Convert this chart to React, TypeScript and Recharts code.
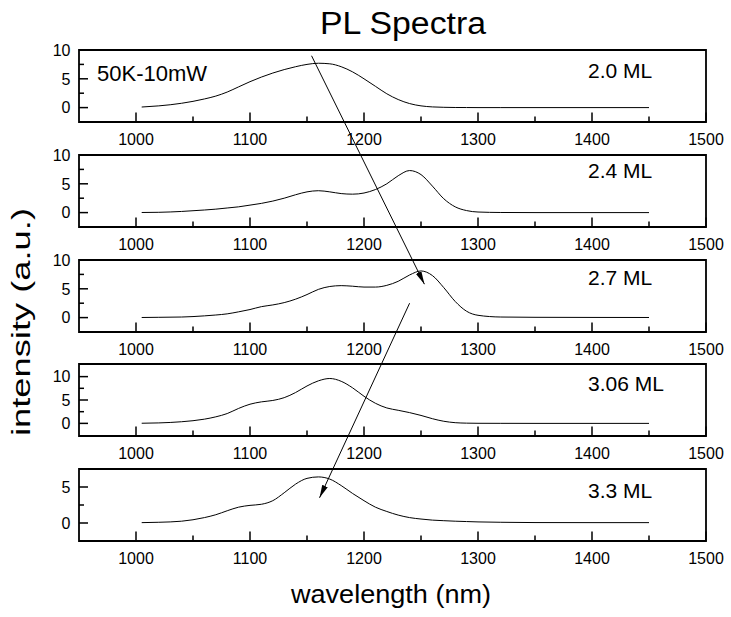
import React from 'react';
import { LineChart, Line, XAxis, YAxis, ReferenceArea } from 'recharts';

// Shared wavelength grid (nm) for all spectra
const wavelength = [
  1005, 1020, 1040, 1060, 1070, 1080, 1090, 1100, 1110, 1120, 1130, 1140, 1150, 1160, 1170, 1180,
  1190, 1200, 1210, 1220, 1230, 1240, 1250, 1260, 1270, 1280, 1290, 1300, 1320, 1350, 1400, 1450,
];

// PL intensity (a.u.) per sample thickness
const pl20 = [
  0.1, 0.3, 0.75, 1.5, 2.0, 2.7, 3.6, 4.5, 5.3, 6.0, 6.6, 7.1, 7.5, 7.7, 7.6, 7.1,
  6.2, 5.0, 3.7, 2.4, 1.4, 0.7, 0.3, 0.12, 0.05, 0.02, 0.01, 0, 0, 0, 0, 0,
];
const pl24 = [
  0.02, 0.05, 0.2, 0.45, 0.6, 0.8, 1.0, 1.3, 1.6, 2.0, 2.5, 3.1, 3.6, 3.8, 3.6, 3.3,
  3.2, 3.4, 4.0, 5.0, 6.4, 7.3, 6.6, 4.6, 2.4, 1.0, 0.35, 0.1, 0.02, 0, 0, 0,
];
const pl27 = [
  0.02, 0.05, 0.1, 0.3, 0.45, 0.65, 1.0, 1.4, 1.9, 2.2, 2.6, 3.2, 4.0, 4.9, 5.4, 5.55,
  5.45, 5.3, 5.3, 5.6, 6.3, 7.4, 8.1, 7.3, 5.2, 2.8, 1.1, 0.4, 0.1, 0.05, 0.03, 0.02,
];
const pl306 = [
  0.03, 0.1, 0.35, 0.9, 1.4, 2.1, 3.2, 4.1, 4.6, 4.9, 5.5, 6.6, 8.0, 9.1, 9.6, 9.0,
  7.6, 5.8, 4.3, 3.3, 2.8, 2.3, 1.7, 1.0, 0.45, 0.15, 0.05, 0.02, 0.01, 0, 0, 0,
];
const pl33 = [
  0.05, 0.1, 0.25, 0.75, 1.15, 1.7, 2.2, 2.45, 2.6, 3.1, 4.2, 5.4, 6.2, 6.4, 6.1, 5.2,
  4.1, 3.1, 2.2, 1.6, 1.1, 0.75, 0.55, 0.4, 0.32, 0.25, 0.2, 0.15, 0.1, 0.06, 0.05, 0.05,
];

const spectra = [pl20, pl24, pl27, pl306, pl33];
const sampleLabels = ['2.0 ML', '2.4 ML', '2.7 ML', '3.06 ML', '3.3 ML'];
const yDomains: [number, number][] = [[-2.5, 10], [-2.5, 10], [-2.5, 10], [-2.7, 12.7], [-2.5, 7.5]];
const yMajorTicks = [[0, 5, 10], [0, 5, 10], [0, 5, 10], [0, 5, 10], [0, 5]];
const yMinorTicks = [[2.5, 7.5], [2.5, 7.5], [2.5, 7.5], [2.5, 7.5], [2.5]];
const xMajorTicks = [1000, 1100, 1200, 1300, 1400, 1500];
const xMinorTicks = [1050, 1150, 1250, 1350, 1450];

// Arrows linking peak positions, given as [panel, wavelength, intensity]
const arrows: [number, number, number, number, number, number][] = [
  [0, 1154, 9.0, 2, 1253, 5.8],
  [2, 1240, 2.5, 4, 1161, 3.5],
];

// Layout
const W = 731;
const H = 617;
const PLOT_LEFT = 79;
const PLOT_RIGHT = 706;
const PLOT_H = 72;
const PANEL_TOPS = [50, 155, 260, 364, 469];
const MT = 10;
const XAXIS_H = 34;
const FONT = '"Liberation Sans", Arial, Helvetica, sans-serif';
const X_MIN = 950;
const X_MAX = 1500;

const toPx = (panel: number, wl: number, v: number) => {
  const [lo, hi] = yDomains[panel];
  const x = PLOT_LEFT + ((wl - X_MIN) / (X_MAX - X_MIN)) * (PLOT_RIGHT - PLOT_LEFT);
  const y = PANEL_TOPS[panel] + ((hi - v) / (hi - lo)) * PLOT_H;
  return [x, y];
};

const XTickBottom = (props: any) => {
  const { x, y, payload } = props;
  const major = xMajorTicks.includes(payload.value);
  return (
    <g>
      <line x1={x} y1={y} x2={x} y2={y - (major ? 9.5 : 5.5)} stroke="#000" strokeWidth={1.5} />
      {major && (
        <text x={x} y={y + 23} textAnchor="middle" fontSize={16} fontFamily={FONT} fill="#000">
          {payload.value}
        </text>
      )}
    </g>
  );
};

const XTickTop = (props: any) => {
  const { x, y } = props;
  return <line x1={x} y1={y} x2={x} y2={y + 4} stroke="#000" strokeWidth={1.2} />;
};

const makeYTick = (majors: number[]) => (props: any) => {
  const { x, y, payload } = props;
  const major = majors.includes(payload.value);
  return (
    <g>
      <line x1={x} y1={y} x2={x + (major ? 9 : 5)} y2={y} stroke="#000" strokeWidth={1.5} />
      {major && (
        <text x={x - 8.5} y={y} dy="0.36em" textAnchor="end" fontSize={16} fontFamily={FONT} fill="#000">
          {payload.value}
        </text>
      )}
    </g>
  );
};

const YTickRight = (props: any) => {
  const { x, y } = props;
  return <line x1={x} y1={y} x2={x - 4} y2={y} stroke="#000" strokeWidth={1.2} />;
};

function Panel({ index }: { index: number }) {
  const series = spectra[index];
  const data = wavelength.map((w, i) => ({ w, v: series[i] }));
  const [lo, hi] = yDomains[index];
  const yTicks = [...yMajorTicks[index], ...yMinorTicks[index]].sort((a, b) => a - b);
  const xTicks = [...xMajorTicks, ...xMinorTicks].sort((a, b) => a - b);
  const topTicks = xTicks.filter((t) => t < X_MAX);
  return (
    <div style={{ position: 'absolute', left: 0, top: PANEL_TOPS[index] - MT }}>
      <LineChart
        width={W}
        height={MT + PLOT_H + XAXIS_H}
        data={data}
        margin={{ top: MT, right: W - PLOT_RIGHT, bottom: 0, left: 0 }}
      >
        <XAxis
          dataKey="w"
          type="number"
          domain={[X_MIN, X_MAX]}
          ticks={xTicks}
          interval={0}
          tickLine={false}
          axisLine={false}
          tickSize={0}
          tickMargin={0}
          height={XAXIS_H}
          tick={XTickBottom}
          allowDataOverflow
        />
        <XAxis
          xAxisId="top"
          orientation="top"
          dataKey="w"
          type="number"
          domain={[X_MIN, X_MAX]}
          ticks={topTicks}
          interval={0}
          tickLine={false}
          axisLine={false}
          tickSize={0}
          tickMargin={0}
          height={0}
          tick={XTickTop}
          allowDataOverflow
        />
        <YAxis
          type="number"
          domain={[lo, hi]}
          ticks={yTicks}
          interval={0}
          tickLine={false}
          axisLine={false}
          tickSize={0}
          tickMargin={0}
          width={PLOT_LEFT}
          tick={makeYTick(yMajorTicks[index])}
          allowDataOverflow
        />
        <YAxis
          yAxisId="right"
          orientation="right"
          type="number"
          domain={[lo, hi]}
          ticks={yTicks}
          interval={0}
          tickLine={false}
          axisLine={false}
          tickSize={0}
          tickMargin={0}
          width={0}
          tick={YTickRight}
          allowDataOverflow
        />
        <ReferenceArea
          x1={X_MIN}
          x2={X_MAX}
          y1={lo}
          y2={hi}
          fill="none"
          fillOpacity={0}
          stroke="#000"
          strokeWidth={1.8}
          ifOverflow="visible"
        />
        <Line
          dataKey="v"
          type="monotone"
          dot={false}
          stroke="#000"
          strokeWidth={1}
          isAnimationActive={false}
        />
      </LineChart>
    </div>
  );
}

const LABEL_BASELINES = [78, 178, 285, 391, 498];

export default function App() {
  return (
    <div style={{ position: 'absolute', left: 0, top: 0, width: W, height: H, background: '#fff' }}>
      {spectra.map((_, i) => (
        <Panel key={i} index={i} />
      ))}
      <svg
        width={W}
        height={H}
        style={{ position: 'absolute', left: 0, top: 0, pointerEvents: 'none' }}
      >
        <defs>
          <marker
            id="arrowHead"
            markerWidth={13}
            markerHeight={6}
            refX={13}
            refY={3}
            orient="auto"
            markerUnits="userSpaceOnUse"
          >
            <path d="M0,0 L13,3 L0,6 Z" fill="#000" />
          </marker>
        </defs>
        <text x={320} y={34} fontSize={31} fontFamily={FONT} fill="#000" textLength={166} lengthAdjust="spacingAndGlyphs">
          PL Spectra
        </text>
        <text x={97} y={81} fontSize={22} fontFamily={FONT} fill="#000" textLength={110} lengthAdjust="spacingAndGlyphs">
          50K-10mW
        </text>
        {sampleLabels.map((s, i) => (
          <text key={s} x={588} y={LABEL_BASELINES[i]} fontSize={21} fontFamily={FONT} fill="#000">
            {s}
          </text>
        ))}
        {arrows.map(([p0, w0, v0, p1, w1, v1], i) => {
          const [x0, y0] = toPx(p0, w0, v0);
          const [x1, y1] = toPx(p1, w1, v1);
          return (
            <line
              key={i}
              x1={x0}
              y1={y0}
              x2={x1}
              y2={y1}
              stroke="#000"
              strokeWidth={1}
              markerEnd="url(#arrowHead)"
            />
          );
        })}
        <text x={391} y={603} textAnchor="middle" fontSize={26} fontFamily={FONT} fill="#000" textLength={200} lengthAdjust="spacingAndGlyphs">
          wavelength (nm)
        </text>
        <text
          transform="translate(30,322) rotate(-90)"
          textAnchor="middle"
          fontSize={25}
          fontFamily={FONT}
          fill="#000"
          textLength={228}
          lengthAdjust="spacingAndGlyphs"
        >
          intensity (a.u.)
        </text>
      </svg>
    </div>
  );
}
